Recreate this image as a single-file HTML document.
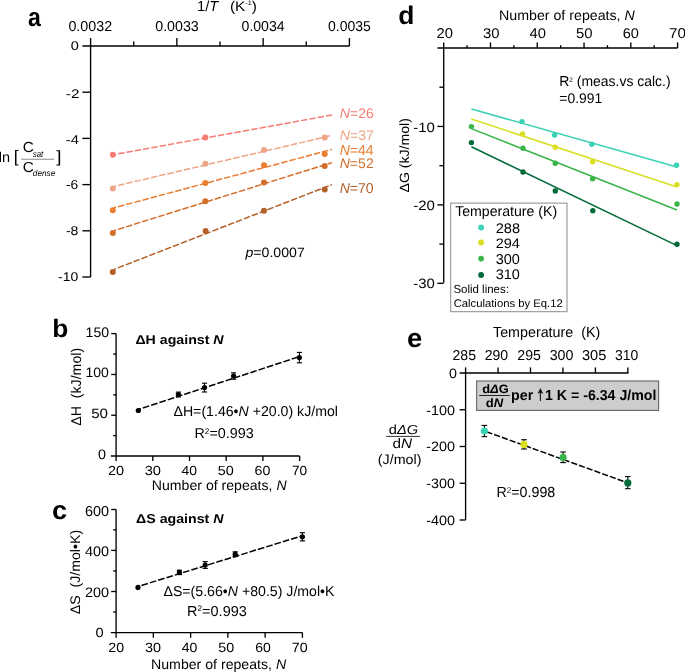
<!DOCTYPE html><html><head><meta charset="utf-8"><style>html,body{margin:0;padding:0;background:#fff;overflow:hidden}svg{display:block;will-change:transform}text{font-family:"Liberation Sans",sans-serif;text-rendering:geometricPrecision}</style></head><body>
<svg width="685" height="672" viewBox="0 0 685 672">
<rect width="685" height="672" fill="#fff"/>
<g id="gfx"><line x1="82.40" y1="46.00" x2="349.40" y2="46.00" stroke="#000" stroke-width="1.35" />
<line x1="90.60" y1="38.00" x2="90.60" y2="277.00" stroke="#000" stroke-width="1.35" />
<line x1="176.87" y1="38.00" x2="176.87" y2="46.00" stroke="#000" stroke-width="1.35" />
<line x1="263.14" y1="38.00" x2="263.14" y2="46.00" stroke="#000" stroke-width="1.35" />
<line x1="349.41" y1="38.00" x2="349.41" y2="46.00" stroke="#000" stroke-width="1.35" />
<line x1="133.73" y1="41.60" x2="133.73" y2="46.00" stroke="#000" stroke-width="1.35" />
<line x1="220.00" y1="41.60" x2="220.00" y2="46.00" stroke="#000" stroke-width="1.35" />
<line x1="306.27" y1="41.60" x2="306.27" y2="46.00" stroke="#000" stroke-width="1.35" />
<line x1="82.40" y1="92.20" x2="90.60" y2="92.20" stroke="#000" stroke-width="1.35" />
<line x1="82.40" y1="138.40" x2="90.60" y2="138.40" stroke="#000" stroke-width="1.35" />
<line x1="82.40" y1="184.60" x2="90.60" y2="184.60" stroke="#000" stroke-width="1.35" />
<line x1="82.40" y1="230.80" x2="90.60" y2="230.80" stroke="#000" stroke-width="1.35" />
<line x1="82.40" y1="277.00" x2="90.60" y2="277.00" stroke="#000" stroke-width="1.35" />
<line x1="21.00" y1="159.30" x2="54.00" y2="159.30" stroke="#8c8c8c" stroke-width="1.1" />
<line x1="114.00" y1="154.60" x2="332.00" y2="115.00" stroke="#f97b75" stroke-width="1.5" stroke-dasharray="6.5 1.95" stroke-dashoffset="4.3"/>
<circle cx="112.80" cy="154.80" r="3.0" fill="#f97b75"/>
<circle cx="205.30" cy="137.60" r="3.0" fill="#f97b75"/>
<line x1="114.00" y1="186.40" x2="332.00" y2="135.40" stroke="#eea586" stroke-width="1.5" stroke-dasharray="6.5 1.95" stroke-dashoffset="4.3"/>
<circle cx="112.80" cy="188.60" r="3.0" fill="#eea586"/>
<circle cx="205.30" cy="163.70" r="3.0" fill="#eea586"/>
<circle cx="264.00" cy="150.00" r="3.0" fill="#eea586"/>
<circle cx="324.70" cy="137.60" r="3.0" fill="#eea586"/>
<line x1="114.00" y1="207.80" x2="332.00" y2="149.40" stroke="#ea7d2f" stroke-width="1.5" stroke-dasharray="6.5 1.95" stroke-dashoffset="4.3"/>
<circle cx="112.80" cy="210.20" r="3.0" fill="#ea7d2f"/>
<circle cx="205.30" cy="183.00" r="3.0" fill="#ea7d2f"/>
<circle cx="264.00" cy="165.20" r="3.0" fill="#ea7d2f"/>
<circle cx="324.70" cy="154.00" r="3.0" fill="#ea7d2f"/>
<line x1="114.00" y1="230.60" x2="332.00" y2="162.60" stroke="#d36d2a" stroke-width="1.5" stroke-dasharray="6.5 1.95" stroke-dashoffset="4.3"/>
<circle cx="112.80" cy="233.00" r="3.0" fill="#d36d2a"/>
<circle cx="205.30" cy="201.20" r="3.0" fill="#d36d2a"/>
<circle cx="264.00" cy="182.60" r="3.0" fill="#d36d2a"/>
<circle cx="324.70" cy="166.00" r="3.0" fill="#d36d2a"/>
<line x1="114.00" y1="269.40" x2="332.00" y2="184.60" stroke="#b45f28" stroke-width="1.5" stroke-dasharray="6.5 1.95" stroke-dashoffset="4.3"/>
<circle cx="112.80" cy="272.00" r="3.0" fill="#b45f28"/>
<circle cx="205.60" cy="231.10" r="3.0" fill="#b45f28"/>
<circle cx="264.00" cy="210.80" r="3.0" fill="#b45f28"/>
<circle cx="324.70" cy="189.40" r="3.0" fill="#b45f28"/>
<line x1="437.40" y1="48.00" x2="677.60" y2="48.00" stroke="#000" stroke-width="1.35" />
<line x1="443.70" y1="42.40" x2="443.70" y2="282.80" stroke="#000" stroke-width="1.35" />
<line x1="490.48" y1="42.40" x2="490.48" y2="48.00" stroke="#000" stroke-width="1.35" />
<line x1="537.26" y1="42.40" x2="537.26" y2="48.00" stroke="#000" stroke-width="1.35" />
<line x1="584.04" y1="42.40" x2="584.04" y2="48.00" stroke="#000" stroke-width="1.35" />
<line x1="630.82" y1="42.40" x2="630.82" y2="48.00" stroke="#000" stroke-width="1.35" />
<line x1="677.60" y1="42.40" x2="677.60" y2="48.00" stroke="#000" stroke-width="1.35" />
<line x1="467.09" y1="45.20" x2="467.09" y2="48.00" stroke="#000" stroke-width="1.35" />
<line x1="513.87" y1="45.20" x2="513.87" y2="48.00" stroke="#000" stroke-width="1.35" />
<line x1="560.65" y1="45.20" x2="560.65" y2="48.00" stroke="#000" stroke-width="1.35" />
<line x1="607.43" y1="45.20" x2="607.43" y2="48.00" stroke="#000" stroke-width="1.35" />
<line x1="654.21" y1="45.20" x2="654.21" y2="48.00" stroke="#000" stroke-width="1.35" />
<line x1="437.40" y1="126.44" x2="443.70" y2="126.44" stroke="#000" stroke-width="1.35" />
<line x1="437.40" y1="204.88" x2="443.70" y2="204.88" stroke="#000" stroke-width="1.35" />
<line x1="437.40" y1="283.32" x2="443.70" y2="283.32" stroke="#000" stroke-width="1.35" />
<line x1="439.40" y1="87.22" x2="443.70" y2="87.22" stroke="#000" stroke-width="1.35" />
<line x1="439.40" y1="165.66" x2="443.70" y2="165.66" stroke="#000" stroke-width="1.35" />
<line x1="439.40" y1="244.10" x2="443.70" y2="244.10" stroke="#000" stroke-width="1.35" />
<line x1="471.40" y1="109.00" x2="677.00" y2="167.00" stroke="#3ad2b5" stroke-width="1.5" />
<circle cx="522.00" cy="121.60" r="2.7" fill="#3ad2b5"/>
<circle cx="554.60" cy="135.10" r="2.7" fill="#3ad2b5"/>
<circle cx="591.80" cy="144.20" r="2.7" fill="#3ad2b5"/>
<circle cx="676.50" cy="165.30" r="2.7" fill="#3ad2b5"/>
<line x1="471.40" y1="119.00" x2="677.00" y2="187.00" stroke="#d8df20" stroke-width="1.5" />
<circle cx="522.60" cy="134.00" r="2.7" fill="#d8df20"/>
<circle cx="555.20" cy="147.20" r="2.7" fill="#d8df20"/>
<circle cx="592.60" cy="161.80" r="2.7" fill="#d8df20"/>
<circle cx="677.00" cy="184.60" r="2.7" fill="#d8df20"/>
<line x1="471.40" y1="128.60" x2="677.00" y2="210.00" stroke="#3ab54a" stroke-width="1.5" />
<circle cx="471.40" cy="126.60" r="2.7" fill="#3ab54a"/>
<circle cx="523.00" cy="148.20" r="2.7" fill="#3ab54a"/>
<circle cx="555.30" cy="163.30" r="2.7" fill="#3ab54a"/>
<circle cx="592.60" cy="178.80" r="2.7" fill="#3ab54a"/>
<circle cx="677.00" cy="204.00" r="2.7" fill="#3ab54a"/>
<line x1="471.40" y1="146.80" x2="677.00" y2="245.60" stroke="#006a38" stroke-width="1.5" />
<circle cx="471.40" cy="142.60" r="2.7" fill="#006a38"/>
<circle cx="523.00" cy="172.00" r="2.7" fill="#006a38"/>
<circle cx="555.30" cy="191.00" r="2.7" fill="#006a38"/>
<circle cx="592.80" cy="210.80" r="2.7" fill="#006a38"/>
<circle cx="677.00" cy="244.30" r="2.7" fill="#006a38"/>
<rect x="450.7" y="203.1" width="116.3" height="108.6" fill="#fff" stroke="#8a8a8a" stroke-width="1"/>
<circle cx="481.10" cy="227.50" r="2.9" fill="#3ad2b5"/>
<circle cx="481.10" cy="242.50" r="2.9" fill="#d8df20"/>
<circle cx="481.10" cy="258.60" r="2.9" fill="#3ab54a"/>
<circle cx="481.10" cy="275.00" r="2.9" fill="#006a38"/>
<line x1="110.80" y1="456.00" x2="299.60" y2="456.00" stroke="#000" stroke-width="1.35" />
<line x1="116.10" y1="333.60" x2="116.10" y2="456.00" stroke="#000" stroke-width="1.35" />
<line x1="111.20" y1="333.60" x2="116.10" y2="333.60" stroke="#000" stroke-width="1.35" />
<line x1="111.20" y1="415.24" x2="116.10" y2="415.24" stroke="#000" stroke-width="1.35" />
<line x1="111.20" y1="374.47" x2="116.10" y2="374.47" stroke="#000" stroke-width="1.35" />
<line x1="113.20" y1="435.62" x2="116.10" y2="435.62" stroke="#000" stroke-width="1.35" />
<line x1="113.20" y1="394.85" x2="116.10" y2="394.85" stroke="#000" stroke-width="1.35" />
<line x1="113.20" y1="354.09" x2="116.10" y2="354.09" stroke="#000" stroke-width="1.35" />
<line x1="116.10" y1="456.00" x2="116.10" y2="461.00" stroke="#000" stroke-width="1.35" />
<line x1="152.80" y1="456.00" x2="152.80" y2="461.00" stroke="#000" stroke-width="1.35" />
<line x1="189.50" y1="456.00" x2="189.50" y2="461.00" stroke="#000" stroke-width="1.35" />
<line x1="226.20" y1="456.00" x2="226.20" y2="461.00" stroke="#000" stroke-width="1.35" />
<line x1="262.90" y1="456.00" x2="262.90" y2="461.00" stroke="#000" stroke-width="1.35" />
<line x1="299.60" y1="456.00" x2="299.60" y2="461.00" stroke="#000" stroke-width="1.35" />
<line x1="138.30" y1="409.50" x2="299.40" y2="356.60" stroke="#000" stroke-width="1.5" stroke-dasharray="6.7 2.0" stroke-dashoffset="3.86"/>
<circle cx="138.30" cy="410.50" r="2.6" fill="#000"/>
<circle cx="178.40" cy="394.50" r="2.6" fill="#000"/>
<line x1="178.40" y1="392.10" x2="178.40" y2="396.90" stroke="#000" stroke-width="1.1" />
<line x1="175.80" y1="392.10" x2="181.00" y2="392.10" stroke="#000" stroke-width="1.1" />
<line x1="175.80" y1="396.90" x2="181.00" y2="396.90" stroke="#000" stroke-width="1.1" />
<circle cx="204.50" cy="387.60" r="2.6" fill="#000"/>
<line x1="204.50" y1="383.20" x2="204.50" y2="392.00" stroke="#000" stroke-width="1.1" />
<line x1="201.90" y1="383.20" x2="207.10" y2="383.20" stroke="#000" stroke-width="1.1" />
<line x1="201.90" y1="392.00" x2="207.10" y2="392.00" stroke="#000" stroke-width="1.1" />
<circle cx="233.60" cy="376.00" r="2.6" fill="#000"/>
<line x1="233.60" y1="372.80" x2="233.60" y2="379.20" stroke="#000" stroke-width="1.1" />
<line x1="231.00" y1="372.80" x2="236.20" y2="372.80" stroke="#000" stroke-width="1.1" />
<line x1="231.00" y1="379.20" x2="236.20" y2="379.20" stroke="#000" stroke-width="1.1" />
<circle cx="299.40" cy="357.60" r="2.6" fill="#000"/>
<line x1="299.40" y1="352.40" x2="299.40" y2="362.80" stroke="#000" stroke-width="1.1" />
<line x1="296.80" y1="352.40" x2="302.00" y2="352.40" stroke="#000" stroke-width="1.1" />
<line x1="296.80" y1="362.80" x2="302.00" y2="362.80" stroke="#000" stroke-width="1.1" />
<line x1="110.80" y1="632.60" x2="302.40" y2="632.60" stroke="#000" stroke-width="1.35" />
<line x1="116.10" y1="509.50" x2="116.10" y2="632.60" stroke="#000" stroke-width="1.35" />
<line x1="111.20" y1="509.50" x2="116.10" y2="509.50" stroke="#000" stroke-width="1.35" />
<line x1="111.20" y1="591.50" x2="116.10" y2="591.50" stroke="#000" stroke-width="1.35" />
<line x1="111.20" y1="550.40" x2="116.10" y2="550.40" stroke="#000" stroke-width="1.35" />
<line x1="113.20" y1="612.05" x2="116.10" y2="612.05" stroke="#000" stroke-width="1.35" />
<line x1="113.20" y1="570.95" x2="116.10" y2="570.95" stroke="#000" stroke-width="1.35" />
<line x1="113.20" y1="529.85" x2="116.10" y2="529.85" stroke="#000" stroke-width="1.35" />
<line x1="116.10" y1="632.60" x2="116.10" y2="637.80" stroke="#000" stroke-width="1.35" />
<line x1="153.36" y1="632.60" x2="153.36" y2="637.80" stroke="#000" stroke-width="1.35" />
<line x1="190.62" y1="632.60" x2="190.62" y2="637.80" stroke="#000" stroke-width="1.35" />
<line x1="227.88" y1="632.60" x2="227.88" y2="637.80" stroke="#000" stroke-width="1.35" />
<line x1="265.14" y1="632.60" x2="265.14" y2="637.80" stroke="#000" stroke-width="1.35" />
<line x1="302.40" y1="632.60" x2="302.40" y2="637.80" stroke="#000" stroke-width="1.35" />
<line x1="138.00" y1="586.50" x2="302.40" y2="535.70" stroke="#000" stroke-width="1.5" stroke-dasharray="6.7 2.0" stroke-dashoffset="5.04"/>
<circle cx="138.00" cy="587.40" r="2.6" fill="#000"/>
<circle cx="179.40" cy="572.40" r="2.6" fill="#000"/>
<line x1="179.40" y1="570.20" x2="179.40" y2="574.60" stroke="#000" stroke-width="1.1" />
<line x1="176.80" y1="570.20" x2="182.00" y2="570.20" stroke="#000" stroke-width="1.1" />
<line x1="176.80" y1="574.60" x2="182.00" y2="574.60" stroke="#000" stroke-width="1.1" />
<circle cx="205.20" cy="565.00" r="2.6" fill="#000"/>
<line x1="205.20" y1="561.60" x2="205.20" y2="568.40" stroke="#000" stroke-width="1.1" />
<line x1="202.60" y1="561.60" x2="207.80" y2="561.60" stroke="#000" stroke-width="1.1" />
<line x1="202.60" y1="568.40" x2="207.80" y2="568.40" stroke="#000" stroke-width="1.1" />
<circle cx="235.20" cy="554.20" r="2.6" fill="#000"/>
<line x1="235.20" y1="551.80" x2="235.20" y2="556.60" stroke="#000" stroke-width="1.1" />
<line x1="232.60" y1="551.80" x2="237.80" y2="551.80" stroke="#000" stroke-width="1.1" />
<line x1="232.60" y1="556.60" x2="237.80" y2="556.60" stroke="#000" stroke-width="1.1" />
<circle cx="302.40" cy="536.80" r="2.6" fill="#000"/>
<line x1="302.40" y1="532.70" x2="302.40" y2="540.90" stroke="#000" stroke-width="1.1" />
<line x1="299.80" y1="532.70" x2="305.00" y2="532.70" stroke="#000" stroke-width="1.1" />
<line x1="299.80" y1="540.90" x2="305.00" y2="540.90" stroke="#000" stroke-width="1.1" />
<line x1="459.60" y1="373.00" x2="628.40" y2="373.00" stroke="#000" stroke-width="1.35" />
<line x1="465.60" y1="367.40" x2="465.60" y2="520.00" stroke="#000" stroke-width="1.35" />
<line x1="498.05" y1="367.40" x2="498.05" y2="373.00" stroke="#000" stroke-width="1.35" />
<line x1="530.50" y1="367.40" x2="530.50" y2="373.00" stroke="#000" stroke-width="1.35" />
<line x1="562.95" y1="367.40" x2="562.95" y2="373.00" stroke="#000" stroke-width="1.35" />
<line x1="595.40" y1="367.40" x2="595.40" y2="373.00" stroke="#000" stroke-width="1.35" />
<line x1="627.85" y1="367.40" x2="627.85" y2="373.00" stroke="#000" stroke-width="1.35" />
<line x1="459.60" y1="409.75" x2="465.60" y2="409.75" stroke="#000" stroke-width="1.35" />
<line x1="459.60" y1="446.50" x2="465.60" y2="446.50" stroke="#000" stroke-width="1.35" />
<line x1="459.60" y1="483.25" x2="465.60" y2="483.25" stroke="#000" stroke-width="1.35" />
<line x1="459.60" y1="520.00" x2="465.60" y2="520.00" stroke="#000" stroke-width="1.35" />
<rect x="476.6" y="381.0" width="182.0" height="29.4" fill="#cdcdcd" stroke="#6e6e6e" stroke-width="1.2"/>
<line x1="479.20" y1="395.50" x2="509.80" y2="395.50" stroke="#222" stroke-width="1.0" />
<line x1="540.40" y1="401.10" x2="540.40" y2="392.00" stroke="#111" stroke-width="1.1" />
<path d="M540.4,387.9 L543.2,393.8 L540.4,392.8 L537.6,393.8 Z" fill="#111"/>
<line x1="386.20" y1="436.40" x2="420.00" y2="436.40" stroke="#333" stroke-width="1.0" />
<line x1="484.40" y1="431.00" x2="627.80" y2="482.90" stroke="#000" stroke-width="1.5" stroke-dasharray="6.2 2.0" stroke-dashoffset="6.0"/>
<line x1="484.40" y1="425.40" x2="484.40" y2="436.60" stroke="#000" stroke-width="1.1" />
<line x1="481.60" y1="425.40" x2="487.20" y2="425.40" stroke="#000" stroke-width="1.1" />
<line x1="481.60" y1="436.60" x2="487.20" y2="436.60" stroke="#000" stroke-width="1.1" />
<circle cx="484.40" cy="431.00" r="3.6" fill="#3ad2b5"/>
<line x1="524.00" y1="439.70" x2="524.00" y2="449.00" stroke="#000" stroke-width="1.1" />
<line x1="521.20" y1="439.70" x2="526.80" y2="439.70" stroke="#000" stroke-width="1.1" />
<line x1="521.20" y1="449.00" x2="526.80" y2="449.00" stroke="#000" stroke-width="1.1" />
<circle cx="524.00" cy="444.40" r="3.6" fill="#d8df20"/>
<line x1="563.10" y1="452.00" x2="563.10" y2="462.60" stroke="#000" stroke-width="1.1" />
<line x1="560.30" y1="452.00" x2="565.90" y2="452.00" stroke="#000" stroke-width="1.1" />
<line x1="560.30" y1="462.60" x2="565.90" y2="462.60" stroke="#000" stroke-width="1.1" />
<circle cx="563.10" cy="457.40" r="3.6" fill="#3ab54a"/>
<line x1="627.80" y1="476.60" x2="627.80" y2="488.70" stroke="#000" stroke-width="1.1" />
<line x1="625.00" y1="476.60" x2="630.60" y2="476.60" stroke="#000" stroke-width="1.1" />
<line x1="625.00" y1="488.70" x2="630.60" y2="488.70" stroke="#000" stroke-width="1.1" />
<circle cx="627.80" cy="482.90" r="3.6" fill="#006a38"/></g>
<g id="txt"><text id="a_lab" font-size="26.227" font-weight="bold" fill="#000" x="27.92" y="26.39" textLength="12.84" lengthAdjust="spacingAndGlyphs">a</text>
<text id="a_title1" font-size="14.500" font-weight="normal" fill="#000" x="197.01" y="10.70" textLength="21.27" lengthAdjust="spacingAndGlyphs">1/<tspan font-style="italic">T</tspan></text>
<text id="a_title2" font-size="14.000" font-weight="normal" fill="#000" x="229.90" y="10.70" textLength="27.08" lengthAdjust="spacingAndGlyphs">(K<tspan font-size="0.48em" dy="-0.7812em">-1</tspan><tspan dy="0.3750em">)</tspan></text>
<text id="a_xt0" font-size="14.274" font-weight="normal" fill="#000" x="68.40" y="31.41" textLength="43.72" lengthAdjust="spacingAndGlyphs">0.0032</text>
<text id="a_xt1" font-size="14.269" font-weight="normal" fill="#000" x="155.22" y="31.22" textLength="43.51" lengthAdjust="spacingAndGlyphs">0.0033</text>
<text id="a_xt2" font-size="14.269" font-weight="normal" fill="#000" x="241.59" y="31.39" textLength="43.01" lengthAdjust="spacingAndGlyphs">0.0034</text>
<text id="a_xt3" font-size="14.269" font-weight="normal" fill="#000" x="328.08" y="31.40" textLength="42.79" lengthAdjust="spacingAndGlyphs">0.0035</text>
<text id="a_yt0" font-size="12.677" font-weight="normal" fill="#000" x="70.67" y="50.28" textLength="8.04" lengthAdjust="spacingAndGlyphs">0</text>
<text id="a_yt1" font-size="12.526" font-weight="normal" fill="#000" x="65.88" y="97.71" textLength="13.65" lengthAdjust="spacingAndGlyphs">-2</text>
<text id="a_yt2" font-size="12.594" font-weight="normal" fill="#000" x="65.83" y="143.65" textLength="13.17" lengthAdjust="spacingAndGlyphs">-4</text>
<text id="a_yt3" font-size="13.086" font-weight="normal" fill="#000" x="66.03" y="189.13" textLength="12.31" lengthAdjust="spacingAndGlyphs">-6</text>
<text id="a_yt4" font-size="12.682" font-weight="normal" fill="#000" x="65.91" y="235.19" textLength="12.56" lengthAdjust="spacingAndGlyphs">-8</text>
<text id="a_yt5" font-size="12.645" font-weight="normal" fill="#000" x="58.09" y="280.62" textLength="20.23" lengthAdjust="spacingAndGlyphs">-10</text>
<text id="a_ln" font-size="14.313" font-weight="normal" fill="#000" x="-1.33" y="162.47" textLength="11.29" lengthAdjust="spacingAndGlyphs">ln</text>
<text id="a_lb" font-size="16.617" font-weight="normal" fill="#000" x="13.79" y="161.85" textLength="4.91" lengthAdjust="spacingAndGlyphs">[</text>
<text id="a_rb" font-size="16.404" font-weight="normal" fill="#000" x="56.25" y="161.75" textLength="5.22" lengthAdjust="spacingAndGlyphs">]</text>
<text id="a_c1" font-size="14.609" font-weight="normal" fill="#000" x="22.71" y="151.61" textLength="11.12" lengthAdjust="spacingAndGlyphs">C</text>
<text id="a_sat" font-size="8.800" font-weight="normal" fill="#000" x="32.81" y="156.70" textLength="10.51" lengthAdjust="spacingAndGlyphs"><tspan font-style="italic">sat</tspan></text>
<text id="a_c2" font-size="14.467" font-weight="normal" fill="#000" x="22.88" y="172.10" textLength="11.11" lengthAdjust="spacingAndGlyphs">C</text>
<text id="a_dense" font-size="8.518" font-weight="normal" fill="#000" x="32.81" y="176.20" textLength="22.53" lengthAdjust="spacingAndGlyphs"><tspan font-style="italic">dense</tspan></text>
<text id="a_n26" font-size="13.919" font-weight="normal" fill="#f97b75" x="339.71" y="117.80" textLength="34.12" lengthAdjust="spacingAndGlyphs"><tspan font-style="italic">N</tspan>=26</text>
<text id="a_n37" font-size="14.019" font-weight="normal" fill="#eea586" x="339.80" y="140.04" textLength="34.16" lengthAdjust="spacingAndGlyphs"><tspan font-style="italic">N</tspan>=37</text>
<text id="a_n44" font-size="14.546" font-weight="normal" fill="#ea7d2f" x="339.64" y="154.75" textLength="33.99" lengthAdjust="spacingAndGlyphs"><tspan font-style="italic">N</tspan>=44</text>
<text id="a_n52" font-size="13.962" font-weight="normal" fill="#d36d2a" x="339.67" y="167.99" textLength="34.08" lengthAdjust="spacingAndGlyphs"><tspan font-style="italic">N</tspan>=52</text>
<text id="a_n70" font-size="14.261" font-weight="normal" fill="#b45f28" x="339.64" y="192.82" textLength="34.08" lengthAdjust="spacingAndGlyphs"><tspan font-style="italic">N</tspan>=70</text>
<text id="a_p" font-size="13.620" font-weight="normal" fill="#000" x="245.42" y="256.89" textLength="59.40" lengthAdjust="spacingAndGlyphs"><tspan font-style="italic">p</tspan>=0.0007</text>
<text id="d_lab" font-size="25.556" font-weight="bold" fill="#000" x="398.29" y="23.86" textLength="16.11" lengthAdjust="spacingAndGlyphs">d</text>
<text id="d_title" font-size="13.967" font-weight="normal" fill="#000" x="499.05" y="20.13" textLength="135.70" lengthAdjust="spacingAndGlyphs">Number of repeats, <tspan font-style="italic">N</tspan></text>
<text id="d_xt0" font-size="14.195" font-weight="normal" fill="#000" x="436.56" y="38.11" textLength="16.40" lengthAdjust="spacingAndGlyphs">20</text>
<text id="d_xt1" font-size="14.127" font-weight="normal" fill="#000" x="482.96" y="38.27" textLength="16.49" lengthAdjust="spacingAndGlyphs">30</text>
<text id="d_xt2" font-size="14.133" font-weight="normal" fill="#000" x="529.47" y="38.05" textLength="16.48" lengthAdjust="spacingAndGlyphs">40</text>
<text id="d_xt3" font-size="14.133" font-weight="normal" fill="#000" x="575.97" y="38.31" textLength="16.58" lengthAdjust="spacingAndGlyphs">50</text>
<text id="d_xt4" font-size="14.127" font-weight="normal" fill="#000" x="622.75" y="38.26" textLength="16.23" lengthAdjust="spacingAndGlyphs">60</text>
<text id="d_xt5" font-size="14.195" font-weight="normal" fill="#000" x="668.96" y="38.18" textLength="16.97" lengthAdjust="spacingAndGlyphs">70</text>
<text id="d_yt0" font-size="13.578" font-weight="normal" fill="#000" x="413.29" y="131.63" textLength="21.66" lengthAdjust="spacingAndGlyphs">-10</text>
<text id="d_yt1" font-size="13.556" font-weight="normal" fill="#000" x="413.16" y="209.89" textLength="21.80" lengthAdjust="spacingAndGlyphs">-20</text>
<text id="d_yt2" font-size="13.519" font-weight="normal" fill="#000" x="413.20" y="288.37" textLength="21.56" lengthAdjust="spacingAndGlyphs">-30</text>
<text id="d_ylab" font-size="13.378" font-weight="normal" fill="#000" x="-192.54" y="409.14" transform="rotate(-90)" textLength="74.45" lengthAdjust="spacingAndGlyphs">ΔG (kJ/mol)</text>
<text id="d_r2" font-size="14.403" font-weight="normal" fill="#000" x="559.21" y="86.25" textLength="111.42" lengthAdjust="spacingAndGlyphs">R<tspan font-size="0.46em" dy="-0.6304em">2</tspan><tspan dy="0.2900em"> (meas.vs calc.)</tspan></text>
<text id="d_r2b" font-size="14.093" font-weight="normal" fill="#000" x="559.34" y="102.83" textLength="42.87" lengthAdjust="spacingAndGlyphs">=0.991</text>
<text id="d_leg" font-size="14.190" font-weight="normal" fill="#000" x="455.15" y="216.37" textLength="101.99" lengthAdjust="spacingAndGlyphs">Temperature (K)</text>
<text id="d_l0" font-size="14.019" font-weight="normal" fill="#000" x="495.72" y="232.59" textLength="24.33" lengthAdjust="spacingAndGlyphs">288</text>
<text id="d_l1" font-size="13.774" font-weight="normal" fill="#000" x="495.73" y="247.82" textLength="24.19" lengthAdjust="spacingAndGlyphs">294</text>
<text id="d_l2" font-size="14.286" font-weight="normal" fill="#000" x="495.77" y="264.06" textLength="24.16" lengthAdjust="spacingAndGlyphs">300</text>
<text id="d_l3" font-size="14.003" font-weight="normal" fill="#000" x="495.67" y="278.83" textLength="24.13" lengthAdjust="spacingAndGlyphs">310</text>
<text id="d_sl" font-size="11.786" font-weight="normal" fill="#000" x="453.41" y="293.29" textLength="55.48" lengthAdjust="spacingAndGlyphs">Solid lines:</text>
<text id="d_calc" font-size="11.000" font-weight="normal" fill="#000" x="453.67" y="306.70" textLength="109.02" lengthAdjust="spacingAndGlyphs">Calculations by Eq.12</text>
<text id="b_lab" font-size="25.344" font-weight="bold" fill="#000" x="52.21" y="336.85" textLength="16.11" lengthAdjust="spacingAndGlyphs">b</text>
<text id="b_yt0" font-size="13.830" font-weight="normal" fill="#000" x="85.63" y="336.79" textLength="23.57" lengthAdjust="spacingAndGlyphs">150</text>
<text id="b_yt1" font-size="13.690" font-weight="normal" fill="#000" x="85.46" y="376.91" textLength="23.35" lengthAdjust="spacingAndGlyphs">100</text>
<text id="b_yt2" font-size="13.508" font-weight="normal" fill="#000" x="91.18" y="418.37" textLength="16.88" lengthAdjust="spacingAndGlyphs">50</text>
<text id="b_yt3" font-size="13.792" font-weight="normal" fill="#000" x="97.94" y="458.81" textLength="8.00" lengthAdjust="spacingAndGlyphs">0</text>
<text id="b_xt0" font-size="13.235" font-weight="normal" fill="#000" x="107.98" y="474.67" textLength="16.07" lengthAdjust="spacingAndGlyphs">20</text>
<text id="b_xt1" font-size="13.245" font-weight="normal" fill="#000" x="144.66" y="474.50" textLength="16.29" lengthAdjust="spacingAndGlyphs">30</text>
<text id="b_xt2" font-size="13.235" font-weight="normal" fill="#000" x="181.50" y="474.66" textLength="15.50" lengthAdjust="spacingAndGlyphs">40</text>
<text id="b_xt3" font-size="13.277" font-weight="normal" fill="#000" x="217.69" y="474.51" textLength="16.04" lengthAdjust="spacingAndGlyphs">50</text>
<text id="b_xt4" font-size="13.229" font-weight="normal" fill="#000" x="254.52" y="474.51" textLength="15.80" lengthAdjust="spacingAndGlyphs">60</text>
<text id="b_xt5" font-size="13.298" font-weight="normal" fill="#000" x="291.91" y="474.74" textLength="15.18" lengthAdjust="spacingAndGlyphs">70</text>
<text id="b_ylab" font-size="14.171" font-weight="normal" fill="#000" x="-425.67" y="80.56" transform="rotate(-90)" textLength="77.74" lengthAdjust="spacingAndGlyphs">ΔH  (kJ/mol)</text>
<text id="b_t" font-size="12.900" font-weight="bold" fill="#000" x="135.43" y="343.60" textLength="88.17" lengthAdjust="spacingAndGlyphs">ΔH against <tspan font-style="italic">N</tspan></text>
<text id="b_eq" font-size="14.248" font-weight="normal" fill="#000" x="173.48" y="415.74" textLength="164.48" lengthAdjust="spacingAndGlyphs">ΔH=(1.46•<tspan font-style="italic">N</tspan> +20.0) kJ/mol</text>
<text id="b_r2" font-size="14.251" font-weight="normal" fill="#000" x="194.52" y="437.68" textLength="59.16" lengthAdjust="spacingAndGlyphs">R<tspan font-size="0.57em" dy="-0.5088em">2</tspan><tspan dy="0.2900em">=0.993</tspan></text>
<text id="b_xl" font-size="13.926" font-weight="normal" fill="#000" x="151.86" y="489.88" textLength="134.72" lengthAdjust="spacingAndGlyphs">Number of repeats, <tspan font-style="italic">N</tspan></text>
<text id="c_lab" font-size="25.921" font-weight="bold" fill="#000" x="52.08" y="518.63" textLength="15.08" lengthAdjust="spacingAndGlyphs">c</text>
<text id="c_yt0" font-size="14.488" font-weight="normal" fill="#000" x="84.95" y="515.88" textLength="24.15" lengthAdjust="spacingAndGlyphs">600</text>
<text id="c_yt1" font-size="13.926" font-weight="normal" fill="#000" x="84.95" y="555.87" textLength="24.09" lengthAdjust="spacingAndGlyphs">400</text>
<text id="c_yt2" font-size="13.792" font-weight="normal" fill="#000" x="84.97" y="596.81" textLength="24.07" lengthAdjust="spacingAndGlyphs">200</text>
<text id="c_yt3" font-size="13.132" font-weight="normal" fill="#000" x="95.60" y="637.43" textLength="8.15" lengthAdjust="spacingAndGlyphs">0</text>
<text id="c_xt0" font-size="13.374" font-weight="normal" fill="#000" x="108.27" y="652.22" textLength="15.82" lengthAdjust="spacingAndGlyphs">20</text>
<text id="c_xt1" font-size="13.374" font-weight="normal" fill="#000" x="145.09" y="651.91" textLength="16.05" lengthAdjust="spacingAndGlyphs">30</text>
<text id="c_xt2" font-size="13.369" font-weight="normal" fill="#000" x="181.65" y="652.30" textLength="15.68" lengthAdjust="spacingAndGlyphs">40</text>
<text id="c_xt3" font-size="13.369" font-weight="normal" fill="#000" x="218.23" y="652.33" textLength="15.91" lengthAdjust="spacingAndGlyphs">50</text>
<text id="c_xt4" font-size="13.369" font-weight="normal" fill="#000" x="255.26" y="651.90" textLength="15.57" lengthAdjust="spacingAndGlyphs">60</text>
<text id="c_xt5" font-size="13.374" font-weight="normal" fill="#000" x="291.82" y="652.33" textLength="15.90" lengthAdjust="spacingAndGlyphs">70</text>
<text id="c_ylab" font-size="13.882" font-weight="normal" fill="#000" x="-614.23" y="80.12" transform="rotate(-90)" textLength="84.34" lengthAdjust="spacingAndGlyphs">ΔS  (J/mol•K)</text>
<text id="c_t" font-size="12.900" font-weight="bold" fill="#000" x="136.13" y="523.30" textLength="87.35" lengthAdjust="spacingAndGlyphs">ΔS against <tspan font-style="italic">N</tspan></text>
<text id="c_eq" font-size="14.306" font-weight="normal" fill="#000" x="163.49" y="595.79" textLength="170.99" lengthAdjust="spacingAndGlyphs">ΔS=(5.66•<tspan font-style="italic">N</tspan> +80.5) J/mol•K</text>
<text id="c_r2" font-size="14.403" font-weight="normal" fill="#000" x="187.01" y="615.58" textLength="59.82" lengthAdjust="spacingAndGlyphs">R<tspan font-size="0.57em" dy="-0.5088em">2</tspan><tspan dy="0.2900em">=0.993</tspan></text>
<text id="c_xl" font-size="13.930" font-weight="normal" fill="#000" x="151.07" y="668.90" textLength="135.07" lengthAdjust="spacingAndGlyphs">Number of repeats, <tspan font-style="italic">N</tspan></text>
<text id="e_lab" font-size="26.270" font-weight="bold" fill="#000" x="407.03" y="347.05" textLength="15.27" lengthAdjust="spacingAndGlyphs">e</text>
<text id="e_title" font-size="14.561" font-weight="normal" fill="#000" x="493.02" y="336.91" textLength="107.20" lengthAdjust="spacingAndGlyphs">Temperature  (K)</text>
<text id="e_xt0" font-size="14.428" font-weight="normal" fill="#000" x="452.46" y="360.22" textLength="23.55" lengthAdjust="spacingAndGlyphs">285</text>
<text id="e_xt1" font-size="14.495" font-weight="normal" fill="#000" x="484.65" y="360.26" textLength="23.53" lengthAdjust="spacingAndGlyphs">290</text>
<text id="e_xt2" font-size="14.417" font-weight="normal" fill="#000" x="517.29" y="360.42" textLength="23.60" lengthAdjust="spacingAndGlyphs">295</text>
<text id="e_xt3" font-size="14.444" font-weight="normal" fill="#000" x="549.65" y="360.35" textLength="23.73" lengthAdjust="spacingAndGlyphs">300</text>
<text id="e_xt4" font-size="14.389" font-weight="normal" fill="#000" x="581.93" y="360.19" textLength="24.35" lengthAdjust="spacingAndGlyphs">305</text>
<text id="e_xt5" font-size="14.484" font-weight="normal" fill="#000" x="614.92" y="359.92" textLength="23.27" lengthAdjust="spacingAndGlyphs">310</text>
<text id="e_yt0" font-size="13.652" font-weight="normal" fill="#000" x="448.99" y="378.09" textLength="7.97" lengthAdjust="spacingAndGlyphs">0</text>
<text id="e_yt1" font-size="13.690" font-weight="normal" fill="#000" x="426.32" y="415.04" textLength="28.75" lengthAdjust="spacingAndGlyphs">-100</text>
<text id="e_yt2" font-size="13.674" font-weight="normal" fill="#000" x="426.20" y="451.05" textLength="28.85" lengthAdjust="spacingAndGlyphs">-200</text>
<text id="e_yt3" font-size="13.663" font-weight="normal" fill="#000" x="426.32" y="487.71" textLength="28.59" lengthAdjust="spacingAndGlyphs">-300</text>
<text id="e_yt4" font-size="13.690" font-weight="normal" fill="#000" x="426.20" y="524.88" textLength="28.70" lengthAdjust="spacingAndGlyphs">-400</text>
<text id="e_yl1" font-size="13.088" font-weight="normal" fill="#000" x="388.77" y="433.65" textLength="29.28" lengthAdjust="spacingAndGlyphs">d<tspan font-style="italic">ΔG</tspan></text>
<text id="e_yl2" font-size="13.725" font-weight="normal" fill="#000" x="392.52" y="448.24" textLength="19.54" lengthAdjust="spacingAndGlyphs">d<tspan font-style="italic">N</tspan></text>
<text id="e_yl3" font-size="13.725" font-weight="normal" fill="#000" x="377.79" y="463.85" textLength="43.61" lengthAdjust="spacingAndGlyphs">(J/mol)</text>
<text id="e_b1" font-size="12.200" font-weight="bold" fill="#000" x="482.22" y="393.00" textLength="26.49" lengthAdjust="spacingAndGlyphs">d<tspan font-style="italic">Δ</tspan>G</text>
<text id="e_b2" font-size="12.200" font-weight="bold" fill="#000" x="485.76" y="407.30" textLength="17.46" lengthAdjust="spacingAndGlyphs">d<tspan font-style="italic">N</tspan></text>
<text id="e_b3" font-size="14.500" font-weight="bold" fill="#000" x="511.06" y="399.60" textLength="22.17" lengthAdjust="spacingAndGlyphs">per</text>
<text id="e_b4" font-size="14.500" font-weight="bold" fill="#000" x="545.02" y="399.60" textLength="111.40" lengthAdjust="spacingAndGlyphs">1 K = -6.34 J/mol</text>
<text id="e_r2" font-size="14.550" font-weight="normal" fill="#000" x="496.46" y="497.20" textLength="58.84" lengthAdjust="spacingAndGlyphs">R<tspan font-size="0.57em" dy="-0.5088em">2</tspan><tspan dy="0.2900em">=0.998</tspan></text></g>
</svg></body></html>
